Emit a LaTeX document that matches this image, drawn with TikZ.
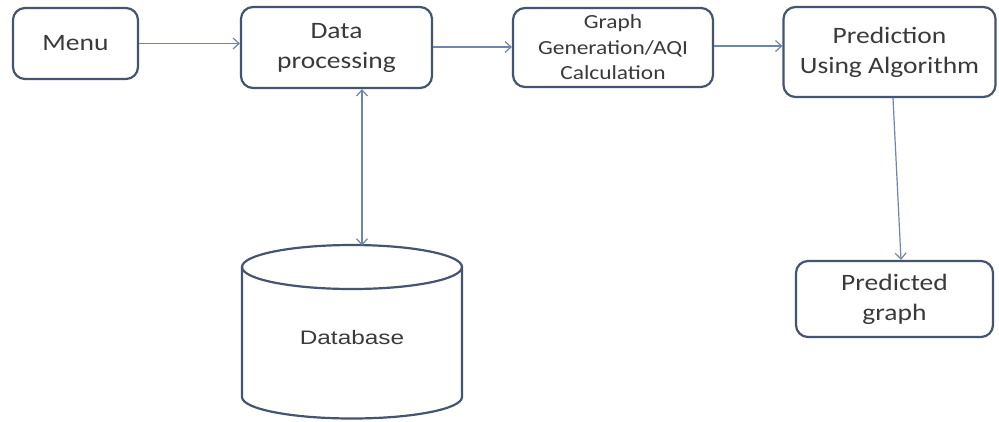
\documentclass[tikz,border=0pt]{standalone}
\usepackage{fontspec}
\setmainfont{Carlito}[FakeStretch=1.17]
\newfontfamily\dbfont{Liberation Sans}[FakeStretch=1.25]
\usetikzlibrary{arrows.meta,calc}
\definecolor{boxline}{HTML}{45546F}
\definecolor{arrline}{HTML}{6F87A6}
\definecolor{txt}{HTML}{3A3A3A}
\tikzset{
  blk/.style={draw=boxline, line width=2.2pt, rounded corners=12pt, fill=white, align=center, text=txt, inner sep=0pt},
  conn/.style={draw=arrline, line width=1.2pt, -{Straight Barb[length=6pt,width=11pt]}},
  bconn/.style={draw=arrline, line width=1.2pt, {Straight Barb[length=6pt,width=11pt]}-{Straight Barb[length=6pt,width=11pt]}},
  big/.style={font=\fontsize{23.5}{30}\selectfont},
  small/.style={font=\fontsize{20}{25.5}\selectfont}
}
\begin{document}
\begin{tikzpicture}[x=1pt,y=-1pt]
\useasboundingbox[fill=white] (0,0) rectangle (999,421);
\node[blk,big,minimum width=125pt,minimum height=71pt] (menu) at (75.5,43.5) {Menu};
\node[blk,big,minimum width=191pt,minimum height=81pt] (data) at (336.5,47.5) {Data\\processing};
\node[blk,small,minimum width=200pt,minimum height=79pt] (graph) at (613,47.5) {Graph\\Generation/AQI\\Calculation};
\node[blk,big,minimum width=212pt,minimum height=90pt] (pred) at (889.5,52) {Prediction\\Using Algorithm};
\node[blk,big,minimum width=197pt,minimum height=76pt] (pdg) at (894.5,299) {Predicted\\graph};
% database cylinder
\draw[draw=boxline, line width=2.2pt, fill=white]
  (242,267) -- (242,397) arc[start angle=180, end angle=0, x radius=110, y radius=21.5] -- (462,267);
\draw[draw=boxline, line width=2.2pt] (352,267) ellipse[x radius=110, y radius=22];
\node[text=txt, font=\dbfont\fontsize{19.5}{24}\selectfont] (db) at (352,338) {Database};
\coordinate (dbtop) at (362,245.5);
% connectors
\draw[conn] (menu.east) -- (menu.east -| data.west);
\draw[conn] (data.east |- 0,47) -- (graph.west |- 0,47);
\draw[conn] (graph.east |- 0,46) -- (pred.west |- 0,46);
\draw[bconn] ([xshift=25.5pt]data.south) -- (dbtop);
\draw[conn] ([xshift=3.5pt]pred.south) -- ([xshift=6.5pt]pdg.north);
\end{tikzpicture}
\end{document}
